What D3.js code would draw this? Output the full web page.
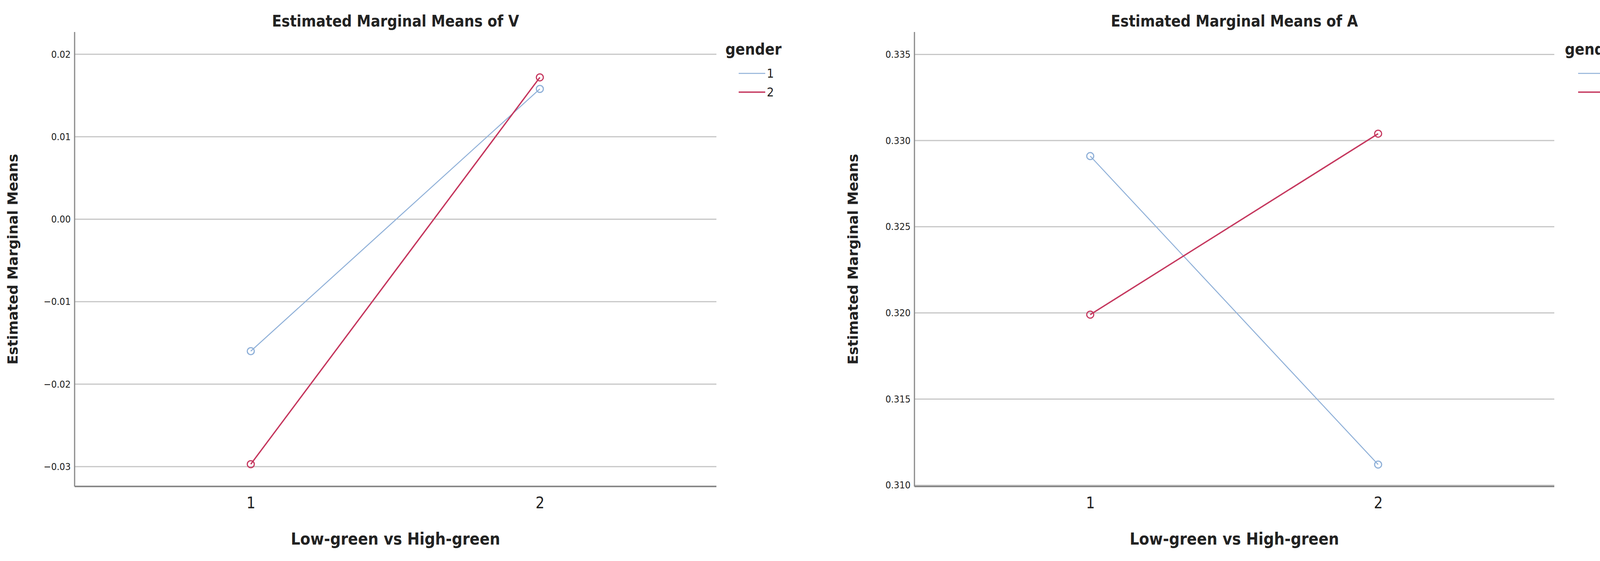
<!DOCTYPE html><html><head><meta charset="utf-8">
<script src="https://cdn.jsdelivr.net/npm/d3@7"></script>
<style>body{margin:0;background:#fff}text{fill:#222}</style></head><body>
<svg id="c" width="4191" height="1437"></svg>
<script>
const categories=["1","2"];
const genders=["1","2"];
const vG1=[-0.0160,0.0158];
const vG2=[-0.0297,0.0172];
const aG1=[0.3291,0.3112];
const aG2=[0.3199,0.3304];
const vTicks=[-0.03,-0.02,-0.01,0.00,0.01,0.02];
const aTicks=[0.310,0.315,0.320,0.325,0.330,0.335];
const colors=["#8fb0d8","#c5375e"];
const svg=d3.select("#c");
const cond='"Liberation Sans Narrow","DejaVu Sans Condensed",sans-serif';
function panel(o){
  const g=svg.append("g");
  const y=d3.scaleLinear().domain(o.dom).range([1246,82]);
  const x=d3.scalePoint().domain(categories).range([o.c1,o.c2]);
  g.selectAll(".gl").data(o.ticks).join("line").attr("x1",o.left).attr("x2",o.right)
   .attr("y1",d=>y(d)).attr("y2",d=>y(d)).attr("stroke","#c6c6c6").attr("stroke-width",3);
  const ya=g.append("g").attr("transform",`translate(${o.left},0)`).call(d3.axisLeft(y).tickValues(o.ticks).tickFormat(d3.format(o.fmt)).tickSize(0).tickPadding(10));
  ya.select(".domain").remove();
  ya.selectAll("text").attr("font-family",cond).attr("font-size",25).attr("fill","#222");
  g.append("line").attr("x1",o.left).attr("x2",o.left).attr("y1",82).attr("y2",1246).attr("stroke","#888").attr("stroke-width",3);
  g.append("line").attr("x1",o.left).attr("x2",o.right).attr("y1",1246).attr("y2",1246).attr("stroke","#888").attr("stroke-width",4);
  const xa=g.append("g").attr("transform","translate(0,1246)").call(d3.axisBottom(x).tickSize(0).tickPadding(28));
  xa.select(".domain").remove();
  xa.selectAll("text").attr("font-family",cond).attr("font-size",40).attr("fill","#222");
  [o.s1,o.s2].forEach((s,i)=>{
    g.append("path").datum(s).attr("fill","none").attr("stroke",colors[i]).attr("stroke-width",i?3.5:2.5)
     .attr("d",d3.line().x((d,j)=>x(categories[j])).y(d=>y(d)));
    g.selectAll(".m"+i).data(s).join("circle").attr("cx",(d,j)=>x(categories[j])).attr("cy",d=>y(d))
     .attr("r",9).attr("fill","none").attr("stroke",colors[i]).attr("stroke-width",3);
  });
  const mid=(o.left+o.right)/2;
  g.append("text").attr("x",mid).attr("y",68).attr("text-anchor","middle").attr("font-family",cond).attr("font-weight","bold").attr("font-size",40).text(o.title);
  g.append("text").attr("x",mid).attr("y",1395).attr("text-anchor","middle").attr("font-family",cond).attr("font-weight","bold").attr("font-size",42).text("Low-green vs High-green");
  g.append("text").attr("transform",`translate(${o.yx},664) rotate(-90)`).attr("text-anchor","middle").attr("font-family","DejaVu Sans,sans-serif").attr("font-weight","bold").attr("font-size",36).text("Estimated Marginal Means");
  g.append("text").attr("x",o.lx).attr("y",140).attr("font-family",cond).attr("font-weight","bold").attr("font-size",40).text("gender");
  genders.forEach((gd,i)=>{
    const ly=188+i*48;
    g.append("line").attr("x1",o.lx+34).attr("x2",o.lx+102).attr("y1",ly).attr("y2",ly).attr("stroke",colors[i]).attr("stroke-width",i?3.5:2.5);
    g.append("text").attr("x",o.lx+106).attr("y",ly+11).attr("font-family",cond).attr("font-size",32).text(gd);
  });
}
panel({dom:[-0.0324,0.0227],ticks:vTicks,fmt:".2f",left:191,right:1834,c1:642,c2:1382,s1:vG1,s2:vG2,title:"Estimated Marginal Means of V",yx:45,lx:1857});
panel({dom:[0.30993,0.3363],ticks:aTicks,fmt:".3f",left:2341,right:3979,c1:2791,c2:3528,s1:aG1,s2:aG2,title:"Estimated Marginal Means of A",yx:2196,lx:4006});
</script></body></html>
